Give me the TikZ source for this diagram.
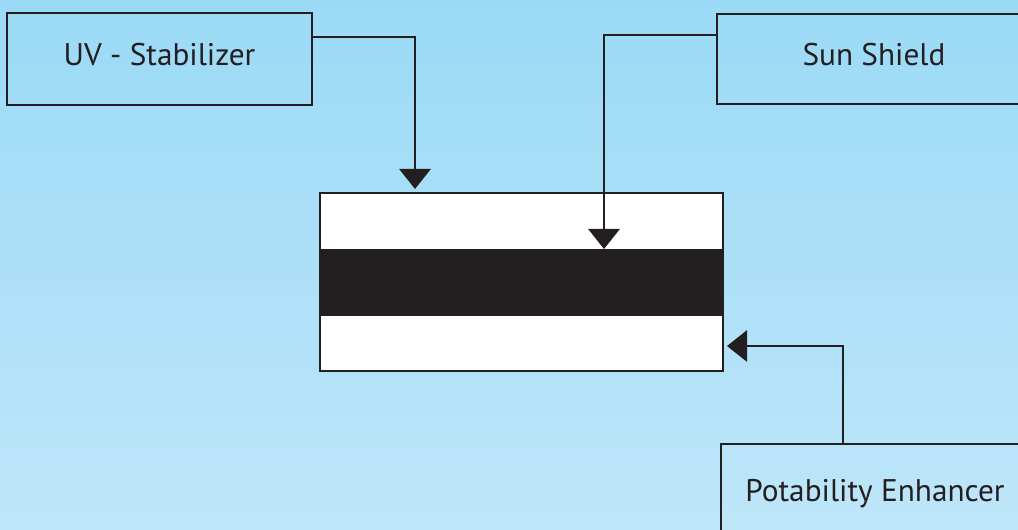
\documentclass[tikz,border=0pt]{standalone}
\usepackage{fontspec}
\setmainfont{PT Sans}
\usepackage{tikz}
\usetikzlibrary{arrows.meta,positioning,calc}
\definecolor{skytop}{RGB}{155, 218, 246}
\definecolor{skybot}{RGB}{190, 230, 249}
\definecolor{inkpr}{RGB}{35, 31, 32}

\begin{document}
\begin{tikzpicture}[x=0.02cm, y=-0.02cm,
    addbox/.style={draw=inkpr, line width=1.1pt, minimum width=6.1cm, minimum height=1.84cm, text height=13pt, text depth=5.7pt, font=\fontsize{17.8}{20}\selectfont, text=inkpr},
    arr/.style={-{Triangle[width=18pt, length=11.5pt]}, line width=1.1pt, draw=inkpr}]
    % Background
    \useasboundingbox (0,0) rectangle (1018,529);
    \clip (0,0) rectangle (1018,529);
    \shade[top color=skytop, bottom color=skybot] (0,0) rectangle (1018,529);

    % Boxes
    \node[addbox] (uv) at (159.5,59) {UV - Stabilizer};
    \node[addbox, minimum width=6.28cm, minimum height=1.8cm] (sun) at (874,59) {Sun Shield};
    \node[addbox, minimum width=6.16cm, text height=17pt, text depth=3.5pt] (pot) at (875,490) {Potability Enhancer};

    % Film
    \node[draw=inkpr, fill=white, line width=1.1pt, minimum width=8.06cm, minimum height=3.56cm, inner sep=0pt] (film) at (521.5,282) {};
    \fill[inkpr] (320,249) rectangle (722,316);

    % Arrows
    \coordinate (uvin) at (415,189);
    \coordinate (sunin) at (604,249);
    \coordinate (potin) at (727,346);
    \draw[arr] ([yshift=0.44cm]uv.east) -| (uvin);
    \draw[arr] ([yshift=0.48cm]sun.west) -| (sunin);
    \draw[arr] ([xshift=-0.64cm]pot.north) |- (potin);
\end{tikzpicture}
\end{document}
